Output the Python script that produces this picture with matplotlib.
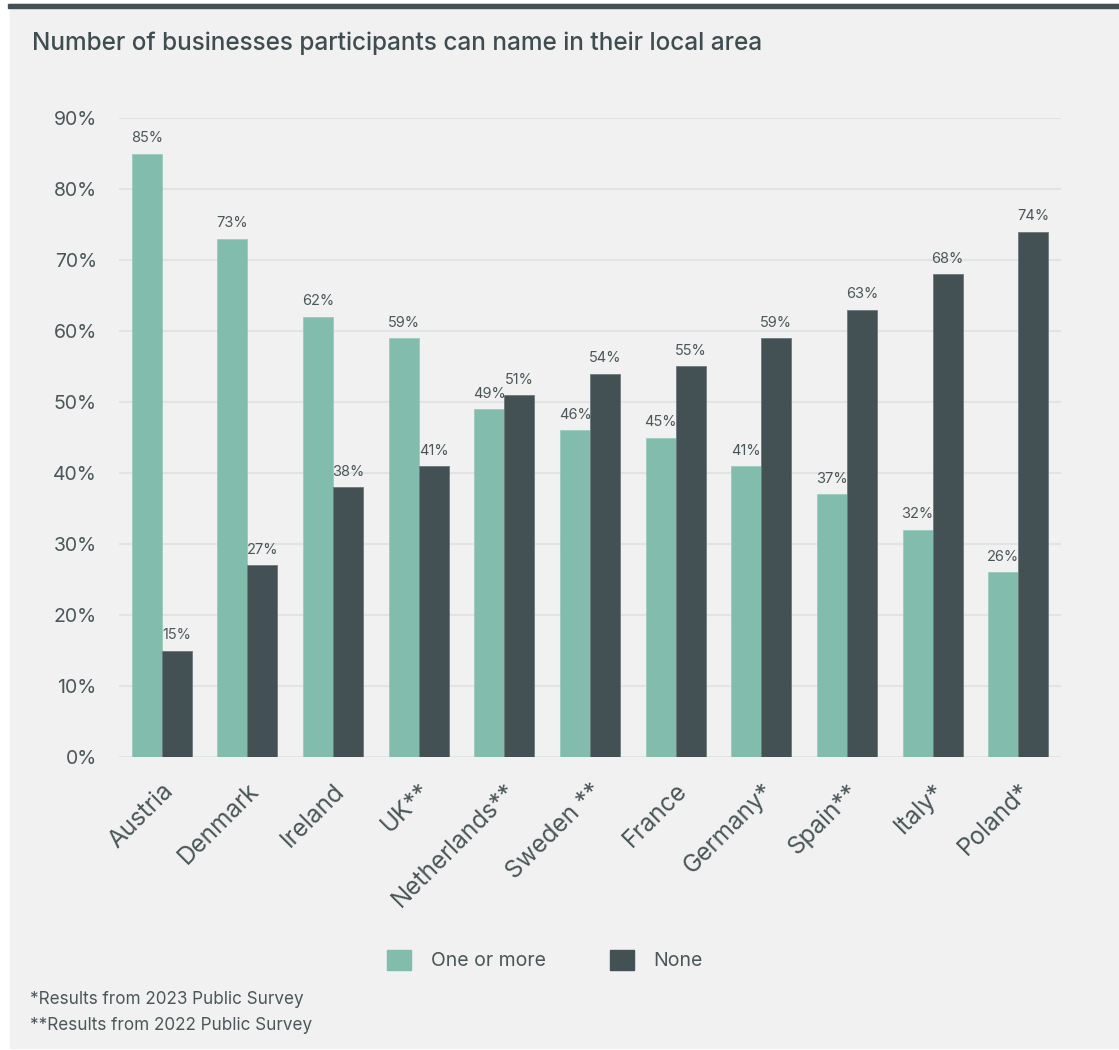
import matplotlib.pyplot as plt
import numpy as np
from matplotlib.patches import Patch

plt.rcParams['font.family'] = ['Inter', 'DejaVu Sans']

countries = ['Austria', 'Denmark', 'Ireland', 'UK**', 'Netherlands**', 'Sweden **',
             'France', 'Germany*', 'Spain**', 'Italy*', 'Poland*']
one_or_more = [85, 73, 62, 59, 49, 46, 45, 41, 37, 32, 26]
none = [15, 27, 38, 41, 51, 54, 55, 59, 63, 68, 74]
yticks = [0, 10, 20, 30, 40, 50, 60, 70, 80, 90]

green = '#82bcad'
dark = '#435155'
text_col = '#4a5759'
bg = '#f1f1f1'

fig = plt.figure(figsize=(11.19, 10.5), dpi=100)
fig.patch.set_facecolor('white')

# panel background and the dark strip on top
fig.add_artist(plt.Rectangle((10 / 1119, 0.002), 1, 1 - 0.002 - 3 / 1050,
                             transform=fig.transFigure, color=bg, zorder=0))
fig.add_artist(plt.Rectangle((8 / 1119, 1 - 8 / 1050), 1, 4 / 1050,
                             transform=fig.transFigure, color=dark, zorder=1))

ax = fig.add_axes([119 / 1119, 1 - 757 / 1050, (1061 - 119) / 1119, (757 - 118) / 1050])
ax.set_facecolor(bg)

x = np.arange(len(countries))
w = 0.35
b1 = ax.bar(x - w / 2, one_or_more, w, color=green, edgecolor='#9cc9bd', linewidth=0.6, zorder=3)
b2 = ax.bar(x + w / 2, none, w, color=dark, edgecolor='#6b7a7d', linewidth=0.6, zorder=3)

for bars, vals in [(b1, one_or_more), (b2, none)]:
    for rect, v in zip(bars, vals):
        ax.annotate(f'{v}%', (rect.get_x() + rect.get_width() / 2, v),
                    xytext=(0, 6), textcoords='offset points',
                    ha='center', va='bottom', fontsize=10.5, color=text_col)

ax.set_xlim(-0.5, len(countries) - 0.5)
ax.set_ylim(0, 90)
ax.set_yticks(yticks)
ax.set_yticklabels([f'{t}%' for t in yticks], fontsize=14, color=text_col)
ax.yaxis.grid(True, color='#e0e5e4', linewidth=1.5, zorder=0)
ax.set_axisbelow(True)
ax.tick_params(axis='y', length=0, pad=16)
ax.tick_params(axis='x', length=0, pad=16)
ax.set_xticks(x)
ax.set_xticklabels(countries, rotation=45, ha='right', rotation_mode='anchor',
                   fontsize=17.5, color=text_col)
for s in ax.spines.values():
    s.set_visible(False)

fig.text(32 / 1119, 1 - 43 / 1050, 'Number of businesses participants can name in their local area',
         fontsize=17.5, fontweight='medium', color='#3f4d50', va='center', ha='left')

handles = [Patch(color=green, label='One or more'), Patch(color=dark, label='None')]
fig.legend(handles=handles, loc='center', bbox_to_anchor=(545 / 1119, 1 - 960 / 1050),
           ncol=2, frameon=False, fontsize=14, labelcolor=text_col,
           handlelength=1.25, handleheight=1.25, columnspacing=3.3, handletextpad=1.0)

fig.text(30 / 1119, 1 - 999 / 1050, '*Results from 2023 Public Survey',
         fontsize=12.3, color=text_col, va='center')
fig.text(30 / 1119, 1 - 1025 / 1050, '**Results from 2022 Public Survey',
         fontsize=12.3, color=text_col, va='center')

fig.savefig('out.png', dpi=100, facecolor=fig.get_facecolor())
